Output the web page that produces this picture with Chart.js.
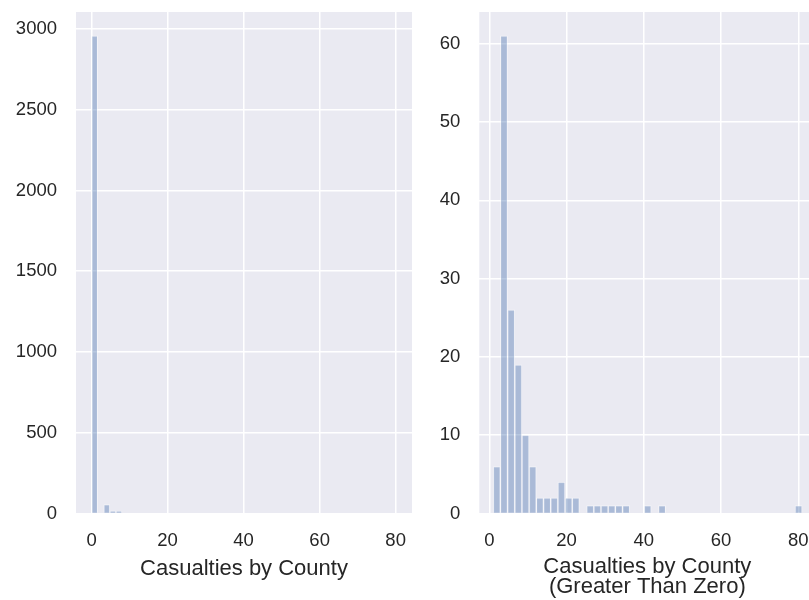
<!DOCTYPE html>
<html>
<head>
<meta charset="utf-8">
<script src="https://cdn.jsdelivr.net/npm/chart.js@4/dist/chart.umd.min.js"></script>
<style>
    html, body { margin: 0; padding: 0; background: #fff; overflow: hidden; width: 809px; height: 600px; }
    .panel { position: absolute; top: 0; height: 600px; }
    #leftPanel { left: 0; width: 440px; }
    #rightPanel { left: 420px; width: 420px; }
</style>
</head>
<body>
<div class="panel" id="leftPanel"><canvas id="allChart"></canvas></div>
<div class="panel" id="rightPanel"><canvas id="positiveChart"></canvas></div>
<script>
// histogram of all counties: 50 bins of width 1.6 starting at 0
const allBinStart = 0;
const allBinWidth = 1.6;
const allCounts = [2957, 0, 56, 16, 15, 0, 0, 0, 0, 0,
    0, 0, 0, 0, 0, 0, 0, 0, 0, 0,
    0, 0, 0, 0, 0, 0, 0, 0, 0, 0,
    0, 0, 0, 0, 0, 0, 0, 0, 0, 0,
    0, 0, 0, 0, 0, 0, 0, 0, 0, 0];
const allYTicks = [0, 500, 1000, 1500, 2000, 2500, 3000];

// histogram of counties with casualties > 0: 43 bins
const posBinStart = 1;
const posBinWidth = 80 / 43;
const posCounts = [6, 61, 26, 19, 10, 6, 2, 2, 2, 4,
    2, 2, 0, 1, 1, 1, 1, 1, 1, 0,
    0, 1, 0, 1, 0, 0, 0, 0, 0, 0,
    0, 0, 0, 0, 0, 0, 0, 0, 0, 0,
    0, 0, 1];
const posYTicks = [0, 10, 20, 30, 40, 50, 60];

const xTicks = [0, 20, 40, 60, 80];

const textColor = "#262626";
const fontFamily = "'Liberation Sans', Arial, sans-serif";

const plotBackground = {
    id: "plotBackground",
    beforeDraw(chart) {
        const { ctx, chartArea } = chart;
        ctx.save();
        ctx.fillStyle = "#eaeaf2";
        ctx.fillRect(chartArea.left, chartArea.top, chartArea.width, chartArea.height);
        ctx.restore();
    }
};

function toPoints(start, width, counts) {
    return counts.map((c, i) => ({ x: start + width * (i + 0.5), y: c }));
}

function makeHist(canvasId, points, opts) {
    new Chart(document.getElementById(canvasId), {
        type: "bar",
        data: {
            datasets: [{
                data: points,
                backgroundColor: "rgba(76, 114, 176, 0.4)",
                borderColor: "rgba(255, 255, 255, 0.45)",
                borderWidth: 1,
                barPercentage: 1,
                categoryPercentage: 1
            }]
        },
        options: {
            responsive: true,
            maintainAspectRatio: false,
            animation: false,
            layout: { padding: { left: 0, right: opts.padRight, top: 12, bottom: 0 } },
            plugins: { legend: { display: false }, tooltip: { enabled: false } },
            scales: {
                x: {
                    type: "linear",
                    offset: false,
                    min: opts.xMin,
                    max: opts.xMax,
                    afterBuildTicks: (scale) => { scale.ticks = xTicks.map(v => ({ value: v })); },
                    afterFit: (scale) => {
                        scale.height = 86.5;
                        scale.paddingLeft = 0;
                        scale.paddingRight = 0;
                    },
                    grid: { color: "#ffffff", lineWidth: 1.5, drawTicks: false, offset: false },
                    border: { display: false },
                    ticks: { color: textColor, font: { family: fontFamily, size: 18.5 }, padding: 16, maxRotation: 0 },
                    title: {
                        display: true,
                        text: opts.title,
                        color: textColor,
                        font: { family: fontFamily, size: 22, lineHeight: 0.9 },
                        padding: { top: 0, bottom: opts.titlePad }
                    }
                },
                y: {
                    min: 0,
                    max: opts.yMax,
                    afterBuildTicks: (scale) => { scale.ticks = opts.yTicks.map(v => ({ value: v })); },
                    afterFit: (scale) => {
                        scale.width = opts.yWidth;
                        scale.paddingTop = 0;
                        scale.paddingBottom = 0;
                    },
                    grid: { color: "#ffffff", lineWidth: 1.5, drawTicks: false },
                    border: { display: false },
                    ticks: {
                        color: textColor,
                        font: { family: fontFamily, size: 18.5 },
                        padding: 19,
                        callback: (v) => String(v)
                    }
                }
            }
        },
        plugins: [plotBackground]
    });
}

// left: all counties
makeHist("allChart", toPoints(allBinStart, allBinWidth, allCounts), {
    xMin: -4.1, xMax: 84.3, yMax: 3105, yTicks: allYTicks,
    yWidth: 76, padRight: 28,
    title: "Casualties by County", titlePad: 21
});

// right: greater than zero
makeHist("positiveChart", toPoints(posBinStart, posBinWidth, posCounts), {
    xMin: -2.6, xMax: 84.4, yMax: 64.05, yTicks: posYTicks,
    yWidth: 59.3, padRight: 24.7,
    title: ["Casualties by County", "(Greater Than Zero)"], titlePad: 3
});
</script>
</body>
</html>
